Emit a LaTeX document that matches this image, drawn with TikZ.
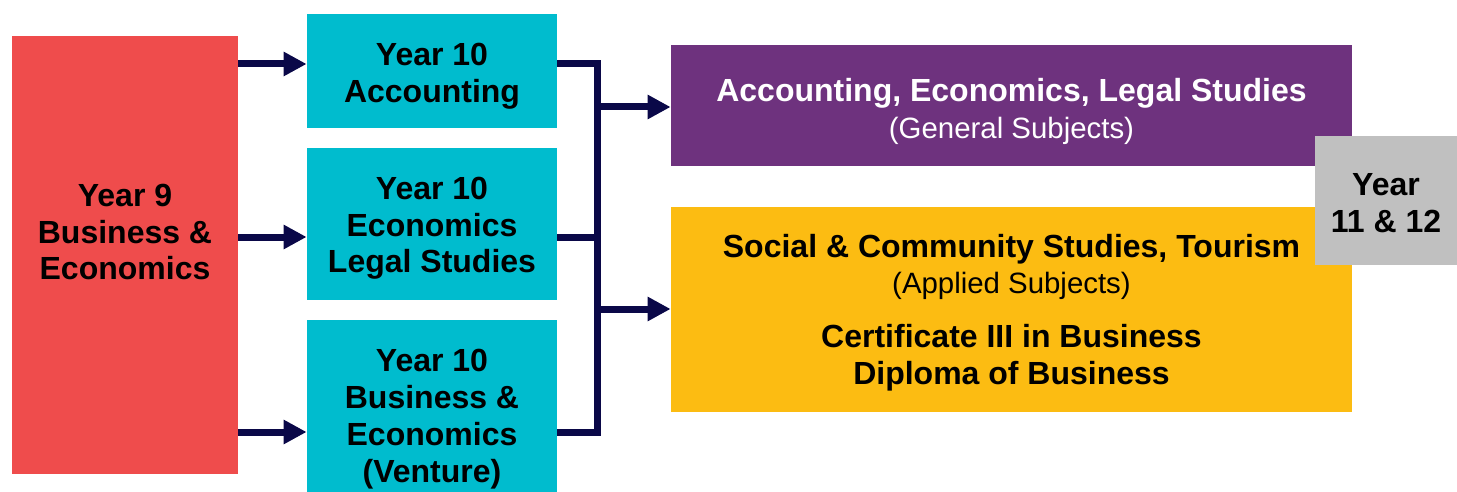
\documentclass[tikz,border=0pt]{standalone}
\usepackage{fontspec}
\setmainfont{Liberation Sans}
\usetikzlibrary {positioning}
\usetikzlibrary {arrows.meta}
\definecolor{redA}{RGB}{239,76,76}
\definecolor{cyanA}{RGB}{0,188,206}
\definecolor{purpleA}{RGB}{110,50,126}
\definecolor{yellowA}{RGB}{252,188,18}
\definecolor{grayA}{RGB}{192,192,192}
\definecolor{navyA}{RGB}{10,8,72}
\newcommand\sinkY[1]{\rule{0pt}{#1}}
\tikzset{
boxY/.style={rectangle,inner sep=0pt,align=center,font=\bfseries\fontsize{16}{18.4}\selectfont}
}
\tikzset{
flow/.style={draw=navyA,line width=3.5pt,-{Triangle[length=11.5pt,width=11.5pt]}}
}
\tikzset{
link/.style={draw=navyA,line width=3.5pt}
}

\begin{document}
\begin{tikzpicture}[x=0.5pt,y=-0.5pt]
\useasboundingbox (0,0) rectangle (1457,492);

\node[boxY,fill=redA,minimum width=113pt,minimum height=219pt] (Y9) at (125,255) {};
\node[boxY] (Y9t) at (125,232) {Year 9\\Business \&\\Economics};
%------------------------------------------------------------------------------------------------------------%
\node[boxY,fill=cyanA,minimum width=125pt,minimum height=57pt] (Y10a) at (432,71) {\sinkY{16.5pt}Year 10\\Accounting};
\node[boxY,fill=cyanA,minimum width=125pt,minimum height=76pt] (Y10b) at (432,224) {\sinkY{15.5pt}Year 10\\Economics\\Legal Studies};
\node[boxY,fill=cyanA,minimum width=125pt,minimum height=86pt] (Y10c) at (432,406) {};
\node[boxY] (Y10ct) at (432,419) {Year 10\\Business \&\\Economics\\(Venture)};
%------------------------------------------------------------------------------------------------------------%
\node[boxY,fill=purpleA,text=white,minimum width=340.5pt,minimum height=60.5pt] (Y11g) at (1011.5,105.5) {\sinkY{17.5pt}Accounting, Economics, Legal Studies\\{\mdseries\fontsize{14.7}{17}\selectfont (General Subjects)}};
\node[boxY,fill=yellowA,minimum width=340.5pt,minimum height=102.5pt] (Y11a) at (1011.5,309.5) {\sinkY{14.7pt}Social \& Community Studies, Tourism\\{\mdseries\fontsize{14.7}{17}\selectfont (Applied Subjects)}\\[8.5pt]Certificate III in Business\\Diploma of Business};
\node[boxY,fill=grayA,minimum width=71pt,minimum height=64.5pt] (Y11) at (1386,200.5) {\sinkY{13.7pt}Year\\11 \& 12};
%------------------------------------------------------------------------------------------------------------%
\coordinate (Ja) at (597,64);
\coordinate (Jb) at (597,237);
\coordinate (Jc) at (597,432);
\coordinate (Jg) at (597,107);
\coordinate (Jy) at (597,309);
\foreach \n in {a,b,c}
{
\draw[flow] (Y9.east |- J\n) -- (Y10\n.west |- J\n);
}
\draw[link] (Y10a.east |- Ja) -- (Ja) -- (Jc) -- (Y10c.east |- Jc);
\draw[link] (Y10b.east |- Jb) -- (Jb);
\draw[flow] (Jg) -- (Y11g.west |- Jg);
\draw[flow] (Jy) -- (Y11a.west |- Jy);

\end{tikzpicture}
\end{document}
